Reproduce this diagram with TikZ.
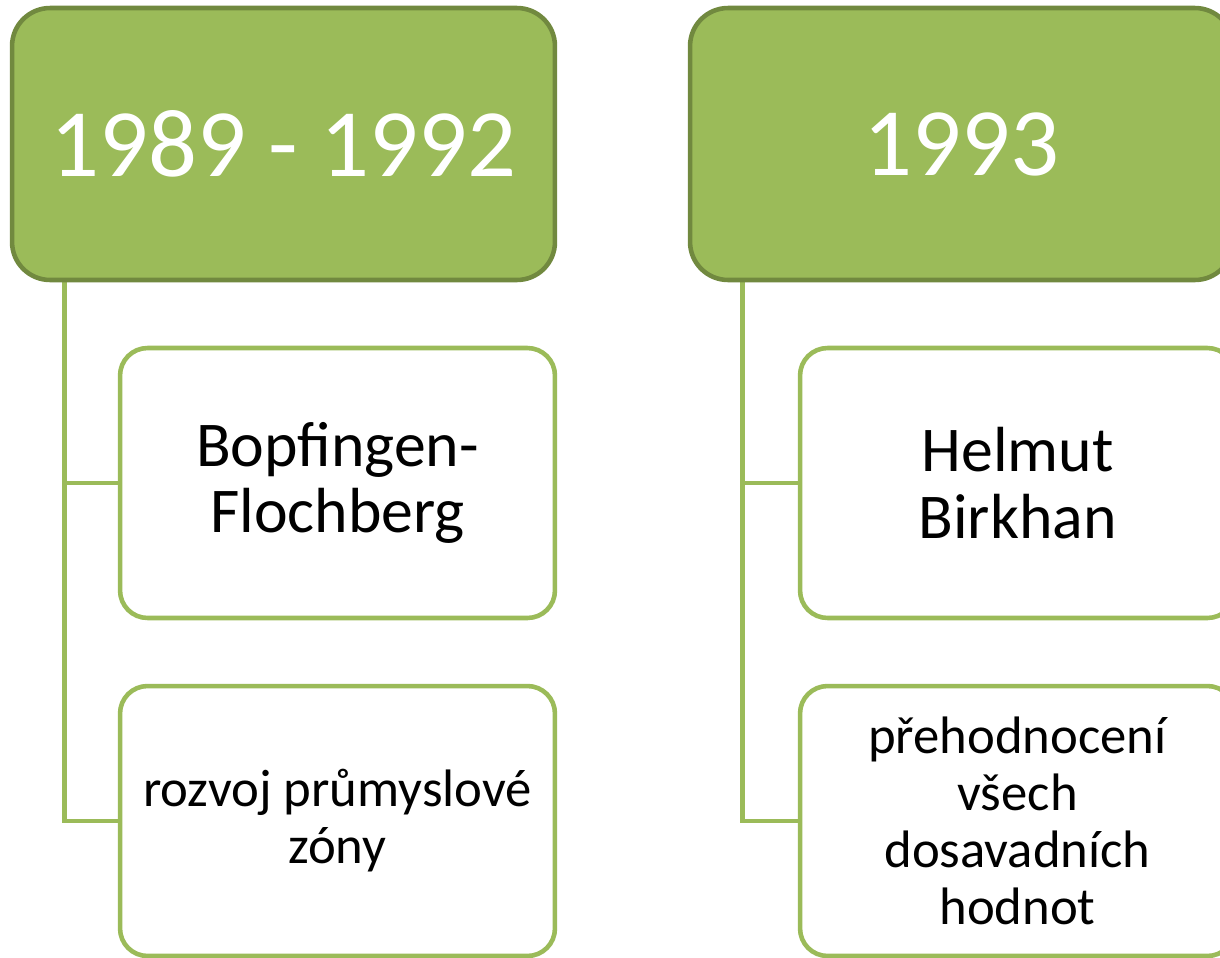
\documentclass[tikz,border=0pt]{standalone}
\usepackage{fontspec}
\setmainfont{Carlito}
\usepackage{tikz}
\usetikzlibrary{backgrounds}
\definecolor{leafgreen}{HTML}{9BBB59}
\definecolor{leafdark}{HTML}{71893F}

\tikzset{
  yearbox/.style={draw=leafdark, fill=leafgreen, line width=2.6pt, rounded corners=0.76cm,
    minimum width=10.86cm, minimum height=5.44cm, text=white, align=center,
    font=\fontsize{55}{60}\selectfont},
  factbox/.style={draw=leafgreen, fill=white, line width=2.6pt, rounded corners=0.55cm,
    minimum width=8.7cm, minimum height=5.4cm, align=center},
  bigtext/.style={font=\fontsize{36.3}{38}\selectfont},
  smalltext/.style={font=\fontsize{30}{32.5}\selectfont},
  link/.style={draw=leafgreen, line width=2.6pt}
}

\begin{document}
\begin{tikzpicture}[x=0.02cm, y=-0.02cm]
  \useasboundingbox (0,0) rectangle (1220,957);
  % Headers
  \node[yearbox] (yearA) at (283.5,144) {1989 - 1992};
  \node[yearbox] (yearB) at (961.5,144) {1993};
  % Facts
  \node[factbox, bigtext] (factA1) at (337.5,483) {Bopfingen-\\Flochberg};
  \node[factbox, smalltext] (factA2) at (337.5,821) {rozvoj průmyslové\\zóny};
  \node[factbox, bigtext] (factB1) at (1017.5,483) {Helmut\\Birkhan};
  \node[factbox, smalltext] (factB2) at (1017.5,821) {přehodnocení\\všech\\dosavadních\\hodnot};
  % Connectors
  \begin{scope}[on background layer]
    \draw[link] ([xshift=1.1cm]yearA.south west) |- (factA1.west);
    \draw[link] ([xshift=1.1cm]yearA.south west) |- (factA2.west);
    \draw[link] ([xshift=1.1cm]yearB.south west) |- (factB1.west);
    \draw[link] ([xshift=1.1cm]yearB.south west) |- (factB2.west);
  \end{scope}
\end{tikzpicture}
\end{document}
